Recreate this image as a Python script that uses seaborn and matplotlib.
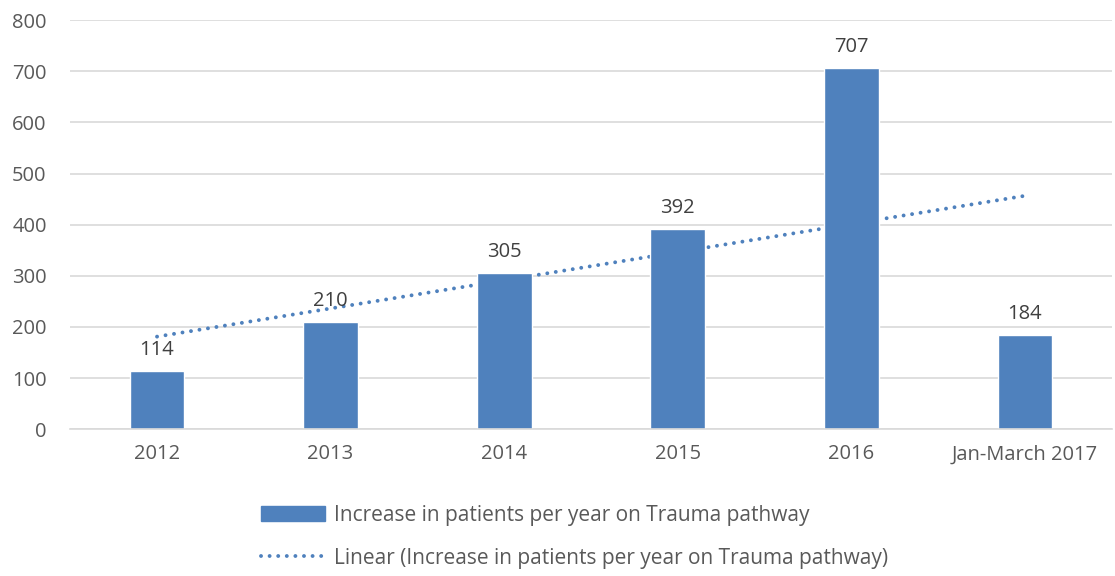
import numpy as np
import pandas as pd
import matplotlib
matplotlib.use("Agg")
import matplotlib.pyplot as plt
import seaborn as sns
from matplotlib.patches import Patch
from matplotlib.lines import Line2D

categories = ["2012", "2013", "2014", "2015", "2016", "Jan-March 2017"]
values = [114, 210, 305, 392, 707, 184]
yticks = [0, 100, 200, 300, 400, 500, 600, 700, 800]
bar_label = "Increase in patients per year on Trauma pathway"
trend_label = "Linear (Increase in patients per year on Trauma pathway)"

sns.set_theme(style="white")
plt.rcParams['font.family'] = ['Open Sans', 'DejaVu Sans']

BLUE = "#4F81BD"
TXT = "#595959"
DOTS = (0, (0.01, 2.2))

fig = plt.figure(figsize=(11.15, 5.76), dpi=100)
ax = fig.add_axes([0.063, 0.255, 0.934, 0.71])

df = pd.DataFrame({"cat": categories, "val": values})

# trendline (least squares on x = 1..n), drawn behind bars
x = np.arange(len(values))
coef = np.polyfit(x + 1, values, 1)
trend = np.polyval(coef, x + 1)
ax.plot(x, trend, linestyle=DOTS, color=BLUE, linewidth=2.8,
        dash_capstyle="round", zorder=1)

sns.barplot(data=df, x="cat", y="val", color=BLUE, saturation=1,
            width=0.315, ax=ax, zorder=2)

for i, v in enumerate(values):
    ax.annotate(str(v), (i, v), xytext=(0, 8), textcoords="offset points",
                ha="center", va="bottom", fontsize=14.5, color="#404040", zorder=3)

ax.set_ylim(0, 800)
ax.set_xlim(-0.5, len(categories) - 0.5)
ax.set_yticks(yticks)
ax.yaxis.grid(True, color="#D9D9D9", linewidth=1.2)
ax.set_axisbelow(True)
for s in ["top", "right", "left"]:
    ax.spines[s].set_visible(False)
ax.spines["bottom"].set_color("#D9D9D9")
ax.spines["bottom"].set_linewidth(1.2)
ax.set_xlabel("")
ax.set_ylabel("")
ax.tick_params(axis="both", labelsize=14.5, colors=TXT, length=0, pad=11)
ax.tick_params(axis="y", pad=17)

handles = [Patch(facecolor=BLUE, edgecolor=BLUE),
           Line2D([0], [0], color=BLUE, linestyle=DOTS, linewidth=2.8,
                  dash_capstyle="round")]
leg = fig.legend(handles, [bar_label, trend_label], loc="upper center",
                 bbox_to_anchor=(0.515, 0.156), ncol=1, frameon=False,
                 fontsize=15, handlelength=3.1, handleheight=0.7,
                 labelspacing=1.05, handletextpad=0.4)
for t in leg.get_texts():
    t.set_color(TXT)

fig.savefig("out.png", dpi=100)
